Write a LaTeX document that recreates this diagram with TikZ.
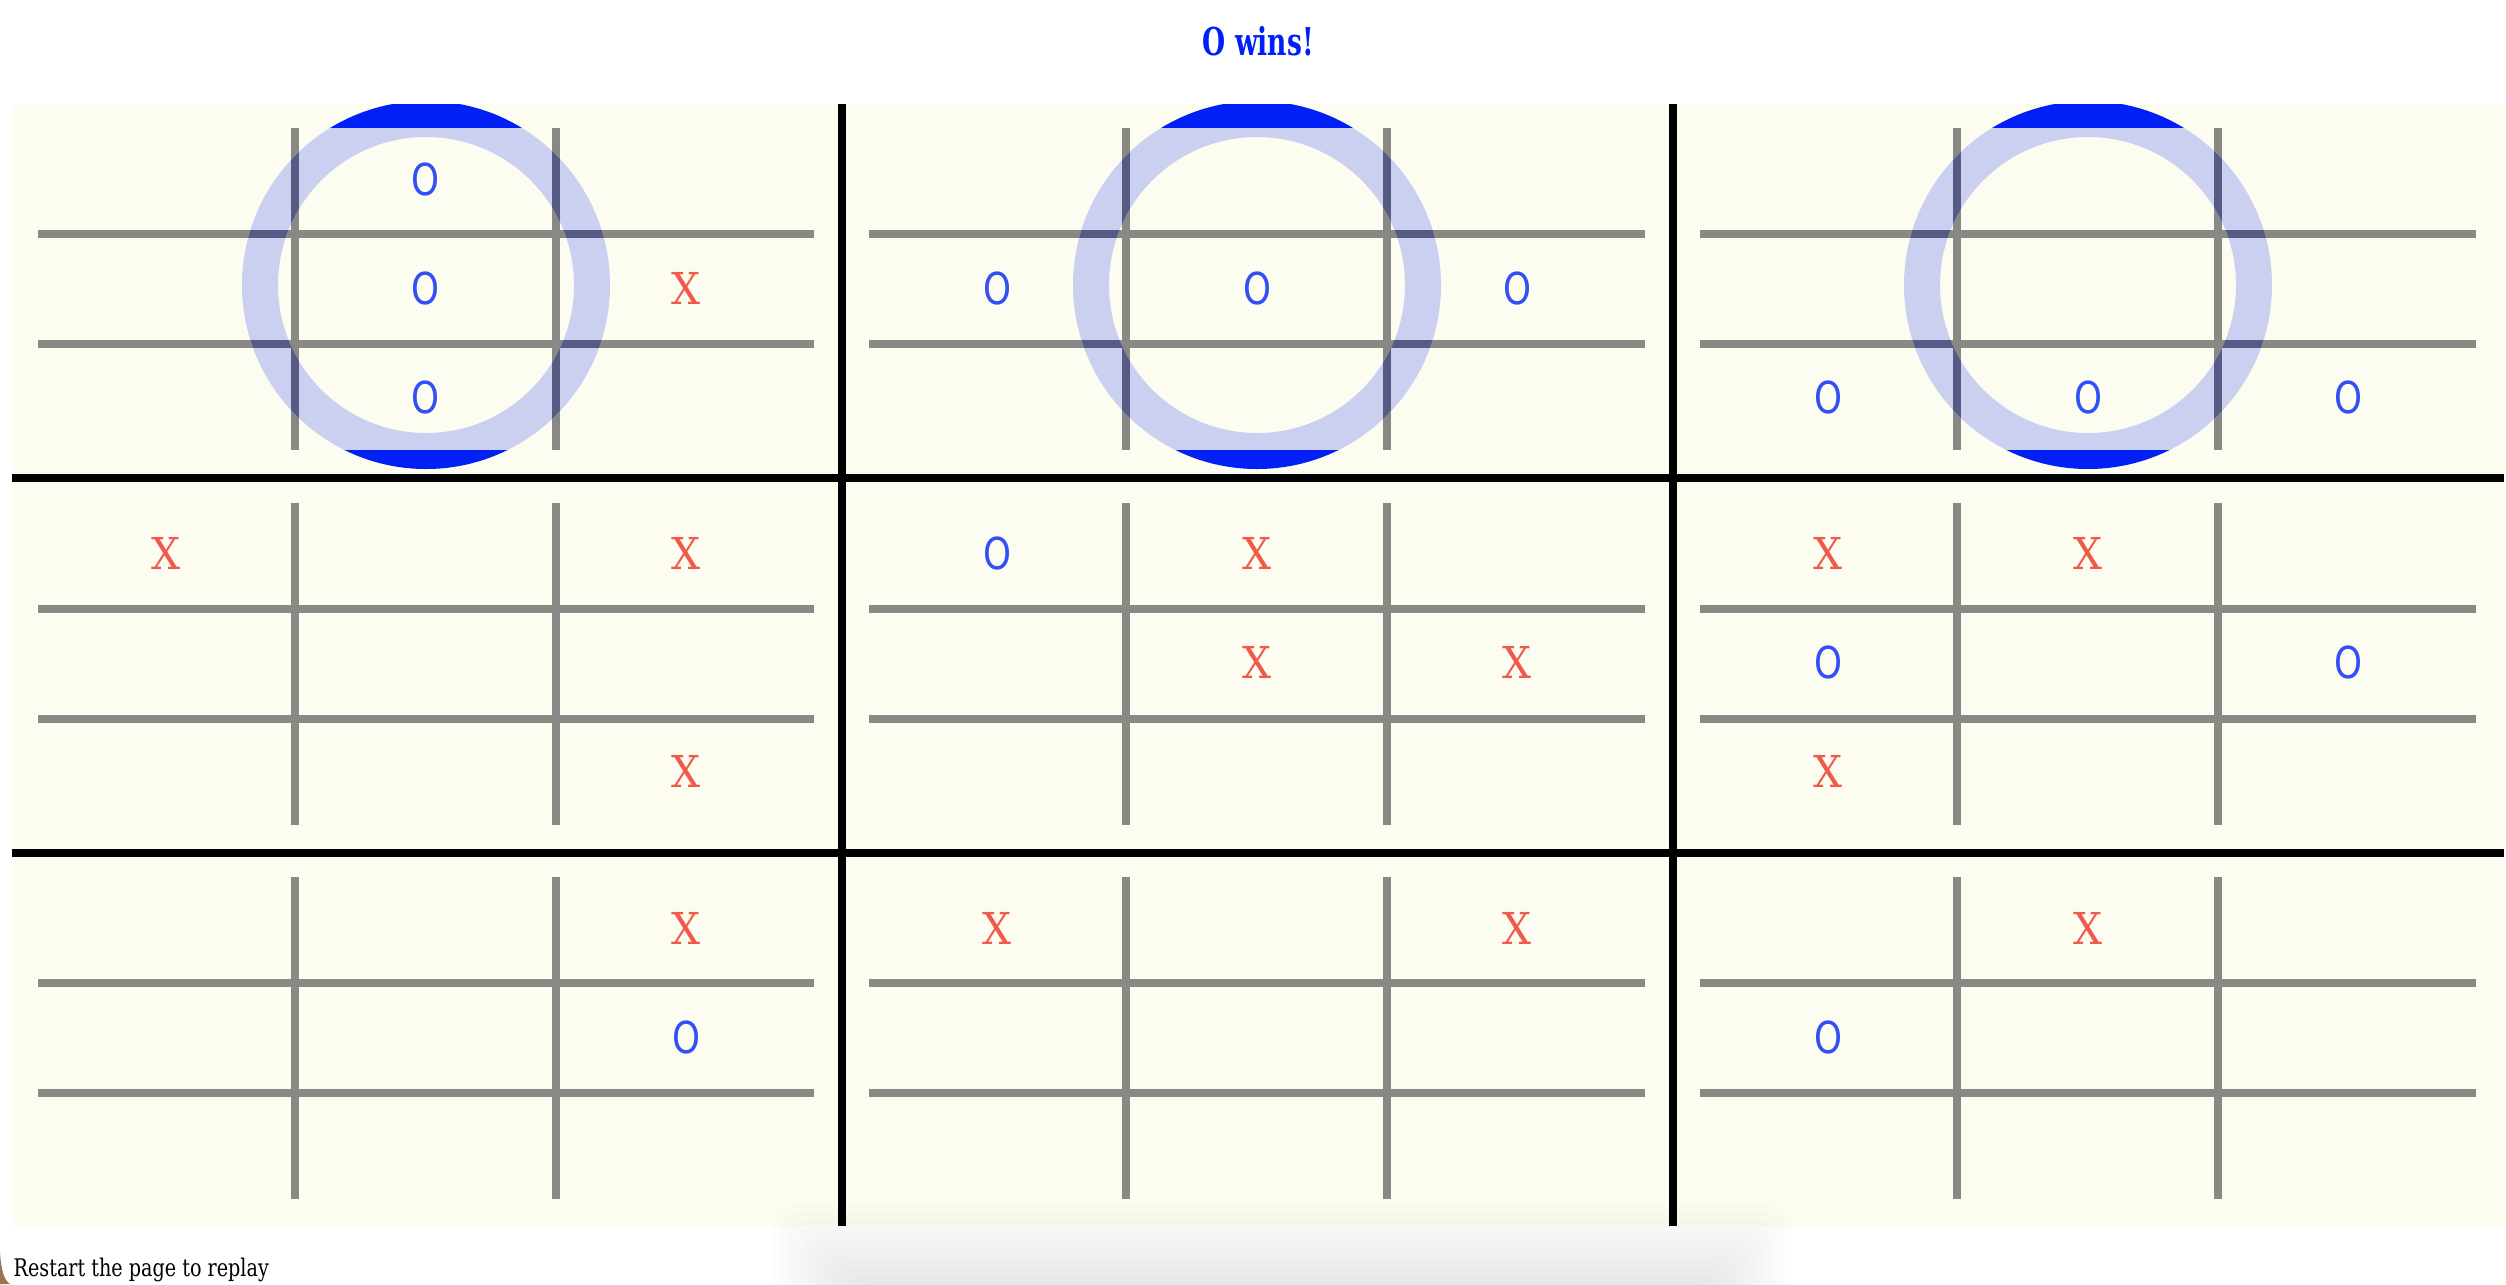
\documentclass[tikz,border=0pt]{standalone}
\usepackage{fontspec}
\usepackage{graphicx}
\newfontfamily\slabfont{DejaVu Serif}
\newfontfamily\markfont{DejaVu Sans}
\definecolor{boardbg}{RGB}{252,252,240}
\definecolor{gridgray}{RGB}{136,136,132}
\definecolor{ringlight}{RGB}{203,208,240}
\definecolor{ringdark}{RGB}{85,91,130}
\definecolor{winblue}{RGB}{0,32,245}
\definecolor{oblue}{RGB}{50,80,245}
\definecolor{xred}{RGB}{240,90,75}
\definecolor{cornerbrown}{RGB}{150,118,78}
\newcommand\fitw[2]{\resizebox{#1}{\height}{#2}}
\tikzset{
  gridline/.style={line width=2.28pt},
  bigline/.style={draw=black, line width=2.1pt},
  omark/.style={text=oblue, inner sep=0pt, font={\markfont\fontsize{12.5pt}{12.5pt}\selectfont}},
  xmark/.style={text=xred, inner sep=0pt, font={\slabfont\fontsize{12.5pt}{12.5pt}\selectfont}},
  titletext/.style={anchor=base west, inner sep=0pt, text=winblue, font={\slabfont\bfseries\fontsize{10.9pt}{10.9pt}\selectfont}},
  foottext/.style={anchor=base west, inner sep=0pt, text=black, font={\slabfont\fontsize{6.9pt}{6.9pt}\selectfont}}
}
\newcommand\gridlines[2]{% ox, oy
  \draw[gridline] (295+#1,128+#2) -- (295+#1,450+#2);
  \draw[gridline] (556+#1,128+#2) -- (556+#1,450+#2);
  \draw[gridline] (38+#1,234+#2) -- (814+#1,234+#2);
  \draw[gridline] (38+#1,344+#2) -- (814+#1,344+#2);
}
\begin{document}
\begin{tikzpicture}[x=0.01cm,y=-0.01cm]
\useasboundingbox (0,0) rectangle (2506,1284);
\fill[white] (0,0) rectangle (2506,1284);
% board background
\fill[boardbg] (12,104) rectangle (2504,1226);
% sub-board grids
\foreach \bi in {0,1,2}{
  \foreach \bj in {0,1,2}{
    \pgfmathsetmacro\ox{831*\bj}
    \pgfmathsetmacro\oy{374.5*\bi}
    \begin{scope}[draw=gridgray]
      \gridlines{\ox}{\oy}
    \end{scope}
  }
}
% winning rings in the top row
\foreach \bj in {0,1,2}{
  \pgfmathsetmacro\ox{831*\bj}
  \pgfmathsetmacro\cx{426+831*\bj}
  \begin{scope}
    \clip (12,128) rectangle (2504,450);
    \fill[ringlight, even odd rule] (\cx,285) circle[radius=184] (\cx,285) circle[radius=148];
  \end{scope}
  \begin{scope}
    \clip (12,128) rectangle (2504,450);
    \begin{scope}[even odd rule]
      \clip (\cx,285) circle[radius=184] (\cx,285) circle[radius=148];
      \begin{scope}[draw=ringdark]
        \gridlines{\ox}{0}
      \end{scope}
    \end{scope}
  \end{scope}
  \begin{scope}
    \clip (\cx,285) circle[radius=184];
    \fill[winblue] (\cx-200,104) rectangle (\cx+200,128);
    \fill[winblue] (\cx-200,450) rectangle (\cx+200,478);
  \end{scope}
}
% separators between sub-boards
\draw[bigline] (842,104) -- (842,1226);
\draw[bigline] (1673,104) -- (1673,1226);
\draw[bigline] (12,478) -- (2504,478);
\draw[bigline] (12,853) -- (2504,853);
% O marks: board row/board col/row/col
\foreach \bi/\bj/\r/\c in {0/0/0/1, 0/0/1/1, 0/0/2/1,
  0/1/1/0, 0/1/1/1, 0/1/1/2,
  0/2/2/0, 0/2/2/1, 0/2/2/2,
  1/1/0/0, 1/2/1/0, 1/2/1/2, 2/0/1/2, 2/2/1/0}{
  \node[omark] (o-\bi-\bj-\r-\c) at ({166+260*\c+831*\bj},{179+109*\r+374.5*\bi}) {\fitw{0.28cm}{O}};
}
% X marks
\foreach \bi/\bj/\r/\c in {0/0/1/2,
  1/0/0/0, 1/0/0/2, 1/0/2/2,
  1/1/0/1, 1/1/1/1, 1/1/1/2,
  1/2/0/0, 1/2/0/1, 1/2/2/0,
  2/0/0/2, 2/1/0/0, 2/1/0/2, 2/2/0/1}{
  \node[xmark] (x-\bi-\bj-\r-\c) at ({166+260*\c+831*\bj},{179+109*\r+374.5*\bi}) {\fitw{0.29cm}{X}};
}
% title
\node[titletext] (title) at (1202,55) {\fitw{1.11cm}{O wins!}};
% soft shadow at the bottom
\foreach \k in {0,...,11}{
  \fill[black, opacity=0.007, rounded corners=6pt] ({850-7*\k},{1282-7*\k}) rectangle ({1715+7*\k},1420);
}
% footer text
\node[foottext] (restart) at (13,1276) {\fitw{2.55cm}{Restart the page to replay}};
% brown corner
\fill[cornerbrown] (0,1284) -- (0,1252) .. controls (1,1270) and (4,1280) .. (10,1284) -- cycle;
\end{tikzpicture}
\end{document}
